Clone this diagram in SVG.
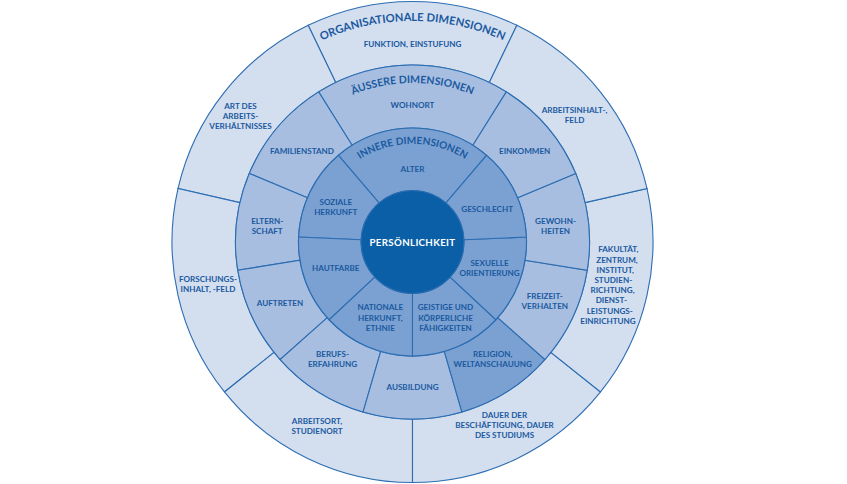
<svg xmlns="http://www.w3.org/2000/svg" width="847" height="484" viewBox="0 0 847 484">
<style>
.o{fill:#d3deef;stroke:#2c6db2;stroke-width:1.1}
.m{fill:#a7bee0;stroke:#2c6db2;stroke-width:1.1}
.i{fill:#7aa1d2;stroke:#2c6db2;stroke-width:1.1}
.t{font-family:Lato,"Liberation Sans",Arial,sans-serif;font-weight:bold;font-size:8.1px;fill:#1a599f;text-anchor:middle}
.h{font-family:Lato,"Liberation Sans",Arial,sans-serif;font-weight:bold;fill:#1a599f}
</style>
<defs>
<path id="arcOrg" d="M 221.1,131.5 A 221 221 0 0 1 603.9,131.5"/>
<path id="arcAus" d="M 274.8,162.5 A 159 159 0 0 1 550.2,162.5"/>
<path id="arcInn" d="M 327.2,193.2 A 98.5 98.5 0 0 1 497.8,193.2"/>
</defs>
<rect width="847" height="484" fill="#ffffff"/>

<g id="outer-ring">
<g id="funktion"><path class="o" d="M 516.85,25.31 A 240.5 240.5 0 0 0 308.15,25.31 L 335.7,82.52 A 177 177 0 0 1 489.3,82.52 Z"/>
<text class="t" x="412.5" y="47.3">FUNKTION, EINSTUFUNG</text></g>
<g id="art-des-arbeitsverhaeltnisses"><path class="o" d="M 308.15,25.31 A 240.5 240.5 0 0 0 178.04,188.49 L 239.94,202.62 A 177 177 0 0 1 335.7,82.52 Z"/>
<text class="t" x="240.5" y="109">ART DES</text><text class="t" x="240.5" y="119">ARBEITS-</text><text class="t" x="240.5" y="129">VERHÄLTNISSES</text></g>
<g id="forschungsinhalt"><path class="o" d="M 178.04,188.49 A 240.5 240.5 0 0 0 224.48,391.95 L 274.12,352.36 A 177 177 0 0 1 239.94,202.62 Z"/>
<text class="t" x="208" y="282.2">FORSCHUNGS-</text><text class="t" x="208" y="292.2">INHALT, -FELD</text></g>
<g id="arbeitsort"><path class="o" d="M 224.48,391.95 A 240.5 240.5 0 0 0 412.5,482.5 L 412.5,419 A 177 177 0 0 1 274.12,352.36 Z"/>
<text class="t" x="317" y="424">ARBEITSORT,</text><text class="t" x="317" y="434">STUDIENORT</text></g>
<g id="dauer"><path class="o" d="M 412.5,482.5 A 240.5 240.5 0 0 0 600.52,391.95 L 550.88,352.36 A 177 177 0 0 1 412.5,419 Z"/>
<text class="t" x="504.5" y="418">DAUER DER</text><text class="t" x="504.5" y="428">BESCHÄFTIGUNG, DAUER</text><text class="t" x="504.5" y="438">DES STUDIUMS</text></g>
<g id="fakultaet"><path class="o" d="M 600.52,391.95 A 240.5 240.5 0 0 0 646.96,188.49 L 585.06,202.62 A 177 177 0 0 1 550.88,352.36 Z"/>
<text class="t" x="618.3" y="252.3">FAKULTÄT,</text><text class="t" x="617" y="262.5">ZENTRUM,</text><text class="t" x="615.3" y="272.7">INSTITUT,</text><text class="t" x="613.3" y="282.9">STUDIEN-</text><text class="t" x="612.5" y="293.1">RICHTUNG,</text><text class="t" x="611.3" y="303.3">DIENST-</text><text class="t" x="609.7" y="313.5">LEISTUNGS-</text><text class="t" x="608" y="323.7">EINRICHTUNG</text></g>
<g id="arbeitsinhalt"><path class="o" d="M 646.96,188.49 A 240.5 240.5 0 0 0 516.85,25.31 L 489.3,82.52 A 177 177 0 0 1 585.06,202.62 Z"/>
<text class="t" x="574.5" y="113">ARBEITSINHALT-,</text><text class="t" x="574.5" y="122.7">FELD</text></g>
<text class="h" font-size="11.2"><textPath href="#arcOrg" startOffset="50%" text-anchor="middle">ORGANISATIONALE DIMENSIONEN</textPath></text>
</g>

<g id="middle-ring">
<g id="wohnort"><path class="m" d="M 506.29,91.90 A 177 177 0 0 0 318.71,91.90 L 352.09,145.33 A 114 114 0 0 1 472.91,145.33 Z"/>
<text class="t" x="412.5" y="108">WOHNORT</text></g>
<g id="familienstand"><path class="m" d="M 318.71,91.90 A 177 177 0 0 0 249.32,173.41 L 307.40,197.82 A 114 114 0 0 1 352.09,145.33 Z"/>
<text class="t" x="302" y="153.7">FAMILIENSTAND</text></g>
<g id="elternschaft"><path class="m" d="M 249.32,173.41 A 177 177 0 0 0 237.78,270.30 L 299.97,260.23 A 114 114 0 0 1 307.40,197.82 Z"/>
<text class="t" x="267.2" y="224">ELTERN-</text><text class="t" x="267.2" y="234">SCHAFT</text></g>
<g id="auftreten"><path class="m" d="M 237.78,270.30 A 177 177 0 0 0 280.14,359.51 L 327.25,317.68 A 114 114 0 0 1 299.97,260.23 Z"/>
<text class="t" x="280" y="305.7">AUFTRETEN</text></g>
<g id="berufserfahrung"><path class="m" d="M 280.14,359.51 A 177 177 0 0 0 363.12,411.97 L 380.69,351.47 A 114 114 0 0 1 327.25,317.68 Z"/>
<text class="t" x="332.5" y="357">BERUFS-</text><text class="t" x="332.5" y="367">ERFAHRUNG</text></g>
<g id="ausbildung"><path class="m" d="M 363.12,411.97 A 177 177 0 0 0 461.88,411.97 L 444.31,351.47 A 114 114 0 0 1 380.69,351.47 Z"/>
<text class="t" x="412.5" y="389.7">AUSBILDUNG</text></g>
<g id="religion"><path class="i" d="M 461.88,411.97 A 177 177 0 0 0 544.86,359.51 L 497.75,317.68 A 114 114 0 0 1 444.31,351.47 Z"/>
<text class="t" x="492.7" y="357">RELIGION,</text><text class="t" x="492.7" y="367">WELTANSCHAUUNG</text></g>
<g id="freizeitverhalten"><path class="m" d="M 544.86,359.51 A 177 177 0 0 0 587.22,270.30 L 525.03,260.23 A 114 114 0 0 1 497.75,317.68 Z"/>
<text class="t" x="544.8" y="298.7">FREIZEIT-</text><text class="t" x="544.8" y="308.7">VERHALTEN</text></g>
<g id="gewohnheiten"><path class="m" d="M 587.22,270.30 A 177 177 0 0 0 575.68,173.41 L 517.60,197.82 A 114 114 0 0 1 525.03,260.23 Z"/>
<text class="t" x="555.6" y="224">GEWOHN-</text><text class="t" x="555.6" y="234">HEITEN</text></g>
<g id="einkommen"><path class="m" d="M 575.68,173.41 A 177 177 0 0 0 506.29,91.90 L 472.91,145.33 A 114 114 0 0 1 517.60,197.82 Z"/>
<text class="t" x="524.7" y="153.7">EINKOMMEN</text></g>
<text class="h" font-size="10.5"><textPath href="#arcAus" startOffset="50%" text-anchor="middle">ÄUSSERE DIMENSIONEN</textPath></text>
</g>

<g id="inner-ring">
<g id="alter"><path class="i" d="M 486.53,155.31 A 114 114 0 0 0 338.47,155.31 L 379.06,202.84 A 51.5 51.5 0 0 1 445.94,202.84 Z"/>
<text class="t" x="412.5" y="172">ALTER</text></g>
<g id="soziale-herkunft"><path class="i" d="M 338.47,155.31 A 114 114 0 0 0 298.61,237.03 L 361.05,239.75 A 51.5 51.5 0 0 1 379.06,202.84 Z"/>
<text class="t" x="335.8" y="204.6">SOZIALE</text><text class="t" x="335.8" y="214.6">HERKUNFT</text></g>
<g id="hautfarbe"><path class="i" d="M 298.61,237.03 A 114 114 0 0 0 329.12,319.75 L 374.83,277.12 A 51.5 51.5 0 0 1 361.05,239.75 Z"/>
<text class="t" x="335.7" y="271.3">HAUTFARBE</text></g>
<g id="nationale-herkunft"><path class="i" d="M 329.12,319.75 A 114 114 0 0 0 412.5,356 L 412.5,293.5 A 51.5 51.5 0 0 1 374.83,277.12 Z"/>
<text class="t" x="380.3" y="310.3">NATIONALE</text><text class="t" x="380.3" y="320.6">HERKUNFT,</text><text class="t" x="380.3" y="330.9">ETHNIE</text></g>
<g id="faehigkeiten"><path class="i" d="M 412.5,356 A 114 114 0 0 0 495.88,319.75 L 450.17,277.12 A 51.5 51.5 0 0 1 412.5,293.5 Z"/>
<text class="t" x="445.5" y="310.3">GEISTIGE UND</text><text class="t" x="445.5" y="320.6">KÖRPERLICHE</text><text class="t" x="445.5" y="330.9">FÄHIGKEITEN</text></g>
<g id="sexuelle-orientierung"><path class="i" d="M 495.88,319.75 A 114 114 0 0 0 526.39,237.03 L 463.95,239.75 A 51.5 51.5 0 0 1 450.17,277.12 Z"/>
<text class="t" x="489.5" y="266.2">SEXUELLE</text><text class="t" x="489.5" y="276.2">ORIENTIERUNG</text></g>
<g id="geschlecht"><path class="i" d="M 526.39,237.03 A 114 114 0 0 0 486.53,155.31 L 445.94,202.84 A 51.5 51.5 0 0 1 463.95,239.75 Z"/>
<text class="t" x="487.2" y="211.7">GESCHLECHT</text></g>
<text class="h" font-size="10.1"><textPath href="#arcInn" startOffset="50%" text-anchor="middle">INNERE DIMENSIONEN</textPath></text>
</g>

<g id="persoenlichkeit">
<circle cx="412.5" cy="242" r="51.5" fill="#0a5fa7" stroke="#2c6db2" stroke-width="1"/>
<text class="t" x="412.5" y="246" style="font-size:9.7px;fill:#ffffff;letter-spacing:0.35px">PERSÖNLICHKEIT</text>
</g>
<g id="connectors"/>
</svg>
